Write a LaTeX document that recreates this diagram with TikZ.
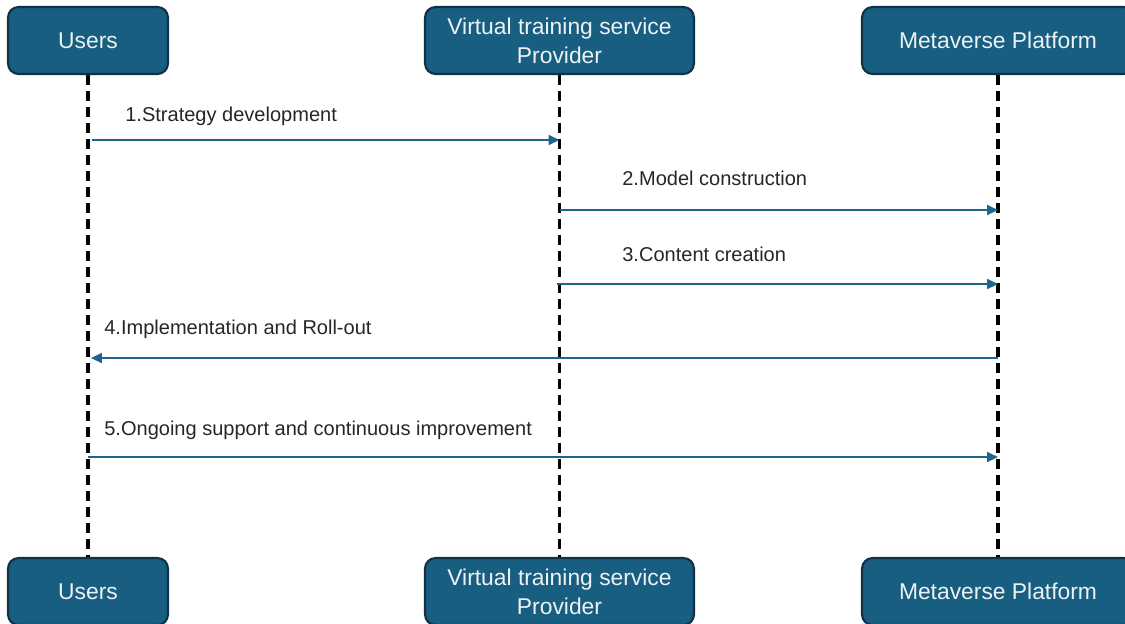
\documentclass[tikz,border=0pt]{standalone}
\usepackage{fontspec}
\setmainfont{Liberation Sans}
\usetikzlibrary{arrows.meta,calc,positioning}

\definecolor{boxfill}{RGB}{24,94,128}
\definecolor{boxline}{RGB}{16,50,70}
\definecolor{msgline}{RGB}{30,100,140}

\tikzset{
	actor/.style={draw=boxline, line width=1.2pt, fill=boxfill, rounded corners=6pt,
		minimum height=1.34cm, inner sep=0pt, text=white!92!boxfill, align=center,
		font=\fontsize{13}{16.4}\selectfont},
	lifeline/.style={black, line width=1.8pt, dash pattern=on 5.7pt off 3.4pt},
	msg/.style={msgline, line width=1.3pt, -{Triangle[length=6.2pt,width=5.6pt]}},
	msglabel/.style={anchor=west, inner sep=0pt, text=black!85,
		font=\fontsize{11.4}{13}\selectfont},
}

\begin{document}
\begin{tikzpicture}[x=0.02cm, y=-0.02cm]
	\clip (0,0) rectangle (1125,623);
	% actors, top and bottom
	\node[actor, minimum width=3.2cm] (usrT) at (88,40.5) {Users};
	\node[actor, minimum width=5.38cm] (prvT) at (559.5,40.5) {Virtual training service\\Provider};
	\node[actor, minimum width=5.44cm] (metT) at (998,40.5) {Metaverse Platform};
	\node[actor, minimum width=3.2cm] (usrB) at (88,591.5) {Users};
	\node[actor, minimum width=5.38cm] (prvB) at (559.5,591.5) {Virtual training service\\Provider};
	\node[actor, minimum width=5.44cm] (metB) at (998,591.5) {Metaverse Platform};
	%
	\draw[lifeline] (usrT.south) -- (usrB.north);
	\draw[lifeline] (prvT.south) -- (prvB.north);
	\draw[lifeline] (metT.south) -- (metB.north);
	%
	\draw[msg] ($(usrT |- 0,140)+(4,0)$) -- (prvT |- 0,140);
	\draw[msg] (prvT |- 0,210) -- (metT |- 0,210);
	\draw[msg] ($(prvT |- 0,284)+(-3,0)$) -- (metT |- 0,284);
	\draw[msg] (metT |- 0,358) -- ($(usrT |- 0,358)+(3,0)$);
	\draw[msg] (usrT |- 0,457) -- (metT |- 0,457);
	%
	\node[msglabel] (l1) at (125,116) {1.Strategy development};
	\node[msglabel] (l2) at (622,178) {2.Model construction};
	\node[msglabel] (l3) at (622,254) {3.Content creation};
	\node[msglabel] (l4) at (104,329) {4.Implementation and Roll-out};
	\node[msglabel] (l5) at (104,430) {5.Ongoing support and continuous improvement};
\end{tikzpicture}
\end{document}
